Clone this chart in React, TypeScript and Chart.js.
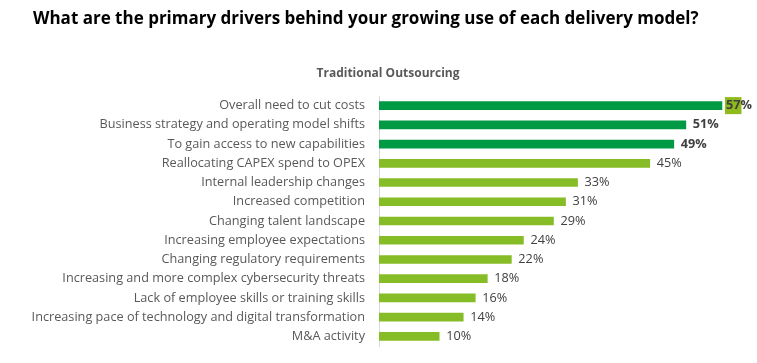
import React, { useEffect, useRef } from "react";
import { Chart, registerables } from "chart.js";

Chart.register(...registerables);

const titleText = "What are the primary drivers behind your growing use of each delivery model?";
const subtitleText = "Traditional Outsourcing";

const categories = [
  "Overall need to cut costs",
  "Business strategy and operating model shifts",
  "To gain access to new capabilities",
  "Reallocating CAPEX spend to OPEX",
  "Internal leadership changes",
  "Increased competition",
  "Changing talent landscape",
  "Increasing employee expectations",
  "Changing regulatory requirements",
  "Increasing and more complex cybersecurity threats",
  "Lack of employee skills or training skills",
  "Increasing pace of technology and digital transformation",
  "M&A activity",
];

const values = [57, 51, 49, 45, 33, 31, 29, 24, 22, 18, 16, 14, 10];

const topGroupSize = 3;

const DARK = "#009A44";
const LIGHT = "#86BC25";
const FONT = "'Open Sans', sans-serif";

const headerPlugin = {
  id: "headers",
  afterDraw(chart: any) {
    const { ctx } = chart;
    ctx.save();
    ctx.textBaseline = "middle";
    ctx.fillStyle = "#000000";
    ctx.textAlign = "left";
    ctx.font = `bold 17px ${FONT}`;
    ctx.fillText(titleText, 33, 19);
    ctx.fillStyle = "#595959";
    ctx.textAlign = "center";
    ctx.font = `bold 12px ${FONT}`;
    ctx.fillText(subtitleText, 388, 74);
    ctx.restore();
  },
};

const valueLabelPlugin = {
  id: "valueLabels",
  afterDatasetsDraw(chart: any) {
    const { ctx } = chart;
    const meta = chart.getDatasetMeta(0);
    const maxVal = Math.max(...values);
    ctx.save();
    ctx.textBaseline = "middle";
    ctx.textAlign = "left";
    meta.data.forEach((bar: any, i: number) => {
      const v = values[i];
      const bold = i < topGroupSize;
      ctx.font = `${bold ? "bold " : ""}12.7px ${FONT}`;
      const num = String(v);
      const x = bar.x + (v === maxVal ? 4 : 7);
      const y = bar.y;
      if (v === maxVal) {
        const w = ctx.measureText(num).width;
        ctx.fillStyle = "#8FBA1B";
        ctx.fillRect(x - 1, y - 8.5, w + 2, 17);
      }
      ctx.fillStyle = "#404040";
      ctx.fillText(num + "%", x, y);
    });
    ctx.restore();
  },
};

export default function App() {
  const canvasRef = useRef<HTMLCanvasElement | null>(null);

  useEffect(() => {
    const canvas = canvasRef.current;
    if (!canvas) return;
    const chart = new Chart(canvas, {
      type: "bar",
      data: {
        labels: categories,
        datasets: [
          {
            data: values,
            backgroundColor: values.map((_, i) => (i < topGroupSize ? DARK : LIGHT)),
            barThickness: 8,
            borderWidth: 0,
          },
        ],
      },
      options: {
        indexAxis: "y",
        animation: false,
        responsive: true,
        maintainAspectRatio: false,
        layout: { padding: { top: 96, bottom: 17, left: 0, right: 17 } },
        plugins: {
          legend: { display: false },
          title: { display: false },
          tooltip: { enabled: false },
        },
        scales: {
          x: {
            display: false,
            min: 0,
            max: 60,
          },
          y: {
            afterFit(scale: any) {
              scale.width = 379;
              scale.paddingTop = 0;
              scale.paddingBottom = 0;
            },
            grid: { display: false, drawTicks: false },
            border: { display: true, color: "#D9D9D9", width: 1 },
            ticks: {
              padding: 14,
              color: "#595959",
              font: { family: FONT, size: 12.7 },
              autoSkip: false,
            },
          },
        },
      },
      plugins: [headerPlugin, valueLabelPlugin],
    });
    return () => chart.destroy();
  }, []);

  return (
    <div style={{ position: "fixed", left: 0, top: 0, width: 757, height: 363, background: "#fff" }}>
      <canvas ref={canvasRef} />
    </div>
  );
}
